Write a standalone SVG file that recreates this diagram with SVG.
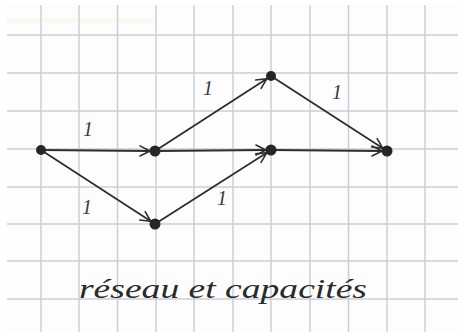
<svg xmlns="http://www.w3.org/2000/svg" width="458" height="332" viewBox="0 0 458 332">
<style>
.grid{stroke:#cdcdd8;stroke-width:1.5;fill:none}
.edge{stroke:#2e2e2e;stroke-width:1.8;fill:none;stroke-linecap:round}
.node{fill:#262626}
.lbl{font-family:"Liberation Serif",serif;font-style:italic;font-size:20px;fill:#3a3a3a;text-anchor:middle}
.title{font-family:"Liberation Serif",serif;font-style:italic;font-size:27px;fill:#2a2a2a}
</style>
<defs>
<marker id="arr" markerUnits="userSpaceOnUse" markerWidth="14" markerHeight="14" refX="11" refY="6" orient="auto" viewBox="0 0 14 12">
<path d="M1,1 L11,6 L1,11" fill="none" stroke="#2e2e2e" stroke-width="1.6" stroke-linecap="round"/>
</marker>
</defs>
<rect width="458" height="332" fill="#ffffff"/>
<rect x="7" y="5" width="451" height="327" fill="#fdfdfd"/>
<rect x="7" y="18" width="150" height="5" fill="#f8f6e8" opacity="0.6"/>
<g id="grid" class="grid">
<path d="M41,5V332M79,5V332M117.5,5V332M156,5V332M194,5V332M233,5V332M271,5V332M310,5V332M348.5,5V332M387,5V332M425,5V332"/>
<path d="M7,35H458M7,73H458M7,111H458M7,149H458M7,187H458M7,224H458M7,261H458M7,299H458"/>
</g>
<g id="connectors">
<line class="edge" x1="41" y1="150" x2="150" y2="151" marker-end="url(#arr)"/>
<line class="edge" x1="41" y1="150" x2="150.8" y2="221.3" marker-end="url(#arr)"/>
<line class="edge" x1="155" y1="151" x2="266.8" y2="78.7" marker-end="url(#arr)"/>
<line class="edge" x1="155" y1="151" x2="266" y2="150" marker-end="url(#arr)"/>
<line class="edge" x1="155" y1="224" x2="266.8" y2="152.7" marker-end="url(#arr)"/>
<line class="edge" x1="271" y1="76" x2="382.8" y2="148.3" marker-end="url(#arr)"/>
<line class="edge" x1="271" y1="150" x2="382" y2="151" marker-end="url(#arr)"/>
<text class="lbl" x="88" y="136">1</text>
<text class="lbl" x="87" y="214">1</text>
<text class="lbl" x="208" y="95">1</text>
<text class="lbl" x="222" y="205">1</text>
<text class="lbl" x="337" y="99">1</text>
</g>
<g id="s"><circle class="node" cx="41" cy="150" r="5"/></g>
<g id="a"><circle class="node" cx="155" cy="151" r="5.5"/></g>
<g id="b"><circle class="node" cx="155" cy="224" r="5.5"/></g>
<g id="c"><circle class="node" cx="271" cy="76" r="5"/></g>
<g id="d"><circle class="node" cx="271" cy="150" r="5.5"/></g>
<g id="t"><circle class="node" cx="387" cy="151" r="5.5"/></g>
<text class="title" x="79" y="298" textLength="288" lengthAdjust="spacingAndGlyphs">réseau et capacités</text>
</svg>
